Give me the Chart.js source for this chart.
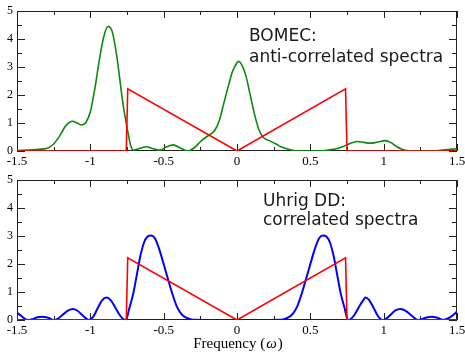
<!DOCTYPE html>
<html>
<head>
<meta charset="utf-8">
<script src="https://cdn.jsdelivr.net/npm/chart.js@4"></script>
<style>
  html, body { margin: 0; padding: 0; background: #fff; }
  #wrap { position: relative; width: 465px; height: 354px; }
  canvas { position: absolute; left: 0; }
  #top { top: 0; }
  #bot { top: 170px; }
</style>
</head>
<body>
<div id="wrap">
  <canvas id="top" width="465" height="170"></canvas>
  <canvas id="bot" width="465" height="184"></canvas>
</div>
<script>
// filter (red), same in both panels
var filtX = [-1.5, -0.755, -0.745, 0, 0.74, 0.75, 1.5];
var filtY = [0, 0, 2.22, 0, 2.22, 0, 0];

// BOMEC spectrum (green, top panel)
var bomecX = [-1.5, -1.4, -1.35, -1.3, -1.28, -1.25, -1.22, -1.2, -1.17, -1.14, -1.12, -1.09, -1.06, -1.03, -1.0,
    -0.97, -0.94, -0.91, -0.88, -0.85, -0.82, -0.8, -0.775, -0.75, -0.725, -0.705, -0.66, -0.62, -0.57, -0.525,
    -0.48, -0.435, -0.39, -0.335, -0.29, -0.25, -0.21, -0.18, -0.15, -0.12, -0.09, -0.06, -0.03, 0.0, 0.01,
    0.03, 0.06, 0.09, 0.12, 0.15, 0.18, 0.22, 0.26, 0.3, 0.35, 0.4, 0.5, 0.6, 0.66, 0.72, 0.77, 0.82, 0.87,
    0.92, 0.97, 1.01, 1.05, 1.09, 1.13, 1.17, 1.25, 1.35, 1.42, 1.5];
var bomecY = [0.02, 0.04, 0.06, 0.09, 0.13, 0.25, 0.45, 0.62, 0.88, 1.03, 1.06, 1.0, 0.93, 1.02, 1.4,
    2.2, 3.2, 4.05, 4.45, 4.25, 3.4, 2.6, 1.6, 0.85, 0.2, 0.03, 0.1, 0.15, 0.08, 0.03,
    0.15, 0.22, 0.12, 0.0, 0.12, 0.33, 0.5, 0.6, 0.75, 1.1, 1.7, 2.3, 2.85, 3.15, 3.2,
    3.1, 2.7, 2.0, 1.3, 0.75, 0.48, 0.37, 0.27, 0.15, 0.06, 0.01, 0.0, 0.02, 0.06, 0.15, 0.27, 0.34, 0.3,
    0.28, 0.33, 0.37, 0.3, 0.15, 0.05, 0.01, 0.0, 0.01, 0.04, 0.08];

// Uhrig DD spectrum (blue, bottom panel)
var uhrigX = [-1.5, -1.47, -1.44, -1.42, -1.39, -1.36, -1.33, -1.3, -1.27, -1.25, -1.22, -1.19, -1.15, -1.12,
    -1.09, -1.05, -1.02, -1.01, -0.98, -0.95, -0.92, -0.89, -0.86, -0.83, -0.8, -0.775, -0.757, -0.735,
    -0.707, -0.68, -0.66, -0.635, -0.61, -0.586, -0.56, -0.535, -0.5, -0.47, -0.44, -0.41, -0.38, -0.35,
    -0.32, -0.28, -0.2, 0, 0.2, 0.28, 0.32, 0.35, 0.38, 0.41, 0.44, 0.47, 0.5, 0.535, 0.56, 0.586, 0.61,
    0.635, 0.66, 0.68, 0.707, 0.735, 0.755, 0.775, 0.8, 0.83, 0.86, 0.875, 0.9, 0.93, 0.96, 0.993, 1.02,
    1.05, 1.08, 1.115, 1.15, 1.19, 1.236, 1.27, 1.3, 1.327, 1.36, 1.39, 1.406, 1.44, 1.47, 1.5];
var uhrigY = [0.26, 0.14, 0.02, 0.0, 0.04, 0.1, 0.12, 0.1, 0.04, 0.0, 0.05, 0.18, 0.34, 0.39,
    0.34, 0.15, 0.02, 0.0, 0.12, 0.42, 0.7, 0.8, 0.7, 0.45, 0.18, 0.03, 0.0, 0.4,
    0.95, 1.7, 2.26, 2.75, 2.98, 3.02, 2.92, 2.6, 2.0, 1.45, 0.92, 0.48, 0.22, 0.09,
    0.03, 0.005, 0.0, 0.0, 0.0, 0.005, 0.03, 0.09, 0.22, 0.48, 0.92, 1.45, 2.0, 2.6, 2.92, 3.02, 2.98,
    2.75, 2.26, 1.7, 0.95, 0.4, 0.0, 0.03, 0.18, 0.45, 0.7, 0.8, 0.72, 0.45, 0.15, 0.0, 0.06,
    0.2, 0.34, 0.39, 0.33, 0.16, 0.0, 0.05, 0.1, 0.12, 0.09, 0.03, 0.0, 0.06, 0.16, 0.3];

var xTicks = [-1.5, -1, -0.5, 0, 0.5, 1, 1.5];
var yTicks = [0, 1, 2, 3, 4, 5];
var xMinor = [-1.25, -0.75, -0.25, 0.25, 0.75, 1.25];
var yMinor = [0.5, 1.5, 2.5, 3.5, 4.5];

var serif = '"Liberation Serif", "Times New Roman", serif';
var sans = '"DejaVu Sans", sans-serif';

function pts(xs, ys) {
    return xs.map(function (x, i) { return { x: x, y: ys[i] }; });
}

// frame + inward ticks on all four sides, drawn under the curves
var framePlugin = {
    id: 'frame',
    beforeDatasetsDraw: function (chart) {
        var ctx = chart.ctx, a = chart.chartArea;
        var sx = chart.scales.x, sy = chart.scales.y;
        ctx.save();
        ctx.strokeStyle = '#222';
        ctx.lineWidth = 1;
        ctx.strokeRect(a.left + 0.5, a.top + 0.5, a.right - a.left - 1, a.bottom - a.top - 1);
        ctx.beginPath();
        function xt(v, len) {
            var p = Math.round(sx.getPixelForValue(v)) + 0.5;
            ctx.moveTo(p, a.bottom); ctx.lineTo(p, a.bottom - len);
            ctx.moveTo(p, a.top); ctx.lineTo(p, a.top + len);
        }
        function yt(v, len) {
            var p = Math.round(sy.getPixelForValue(v)) + 0.5;
            ctx.moveTo(a.left, p); ctx.lineTo(a.left + len, p);
            ctx.moveTo(a.right, p); ctx.lineTo(a.right - len, p);
        }
        xTicks.forEach(function (v) { xt(v, 7); });
        xMinor.forEach(function (v) { xt(v, 4); });
        yTicks.forEach(function (v) { yt(v, 8); });
        yMinor.forEach(function (v) { yt(v, 5); });
        ctx.stroke();
        ctx.restore();
    }
};

var notePlugin = {
    id: 'note',
    afterDraw: function (chart) {
        var o = chart.options.plugins.note;
        if (!o) return;
        var ctx = chart.ctx;
        ctx.save();
        ctx.fillStyle = '#1a1a1a';
        ctx.font = '17px ' + sans;
        ctx.textBaseline = 'alphabetic';
        o.lines.forEach(function (t, i) { ctx.fillText(t, o.x, o.y + i * o.gap); });
        if (o.xlabel) {
            ctx.fillStyle = '#000';
            var f1 = '15px ' + serif, f2 = 'italic 15px ' + serif;
            ctx.font = f1; var w1 = ctx.measureText('Frequency (').width;
            var w3 = ctx.measureText(')').width;
            ctx.font = f2; var w2 = ctx.measureText('\u03c9').width;
            var a = chart.chartArea;
            var x0 = (a.left + a.right) / 2 - (w1 + w2 + w3) / 2, yb = o.xlabelY;
            ctx.font = f1; ctx.fillText('Frequency (', x0, yb);
            ctx.font = f2; ctx.fillText('\u03c9', x0 + w1 + 1, yb);
            ctx.font = f1; ctx.fillText(')', x0 + w1 + w2 + 2, yb);
        }
        ctx.restore();
    }
};

function makeChart(id, curve, color, width, xAxisH, padTop, note) {
    return new Chart(document.getElementById(id), {
        type: 'line',
        data: {
            datasets: [
                {
                    data: pts(filtX, filtY),
                    borderColor: '#ff0000',
                    borderWidth: 1.6,
                    pointRadius: 0,
                    tension: 0
                },
                {
                    data: curve,
                    borderColor: color,
                    borderWidth: width,
                    pointRadius: 0,
                    cubicInterpolationMode: 'monotone'
                }
            ]
        },
        options: {
            responsive: false,
            animation: false,
            devicePixelRatio: 1,
            layout: { padding: { top: padTop, right: 8, left: 0, bottom: 0 } },
            plugins: { legend: { display: false }, tooltip: { enabled: false }, note: note },
            scales: {
                x: {
                    type: 'linear', min: -1.5, max: 1.5,
                    afterBuildTicks: function (s) { s.ticks = xTicks.map(function (v) { return { value: v }; }); },
                    afterFit: function (s) { s.height = xAxisH; s.paddingLeft = 0; s.paddingRight = 0; },
                    grid: { display: false, drawTicks: false },
                    border: { display: false },
                    ticks: {
                        padding: 3, color: '#000', maxRotation: 0, autoSkip: false,
                        font: { family: serif, size: 13 },
                        callback: function (v) { return String(v); }
                    }
                },
                y: {
                    type: 'linear', min: 0, max: 5,
                    afterBuildTicks: function (s) { s.ticks = yTicks.map(function (v) { return { value: v }; }); },
                    afterFit: function (s) { s.width = 17; s.paddingTop = 0; s.paddingBottom = 0; },
                    grid: { display: false, drawTicks: false },
                    border: { display: false },
                    ticks: {
                        padding: 4, color: '#000', autoSkip: false,
                        font: { family: serif, size: 12 },
                        callback: function (v) { return String(v); }
                    }
                }
            }
        },
        plugins: [framePlugin, notePlugin]
    });
}

makeChart('top', pts(bomecX, bomecY), '#0a8a0a', 1.6, 19, 11,
    { x: 249, y: 41, gap: 20.5, lines: ['BOMEC:', 'anti-correlated spectra'] });
makeChart('bot', pts(uhrigX, uhrigY), '#0000ff', 2, 34, 10,
    { x: 263, y: 36, gap: 18.5, lines: ['Uhrig DD:', 'correlated spectra'], xlabel: true, xlabelY: 178 });
</script>
</body>
</html>
